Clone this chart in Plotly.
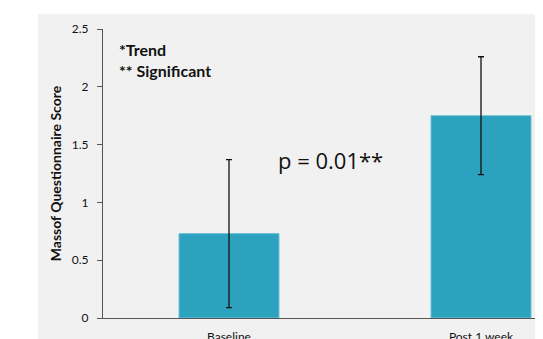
import plotly.graph_objects as go

categories = ["Baseline", "Post 1 week"]
means = [0.73, 1.75]
errors = [0.64, 0.51]
y_ticks = [0, 0.5, 1, 1.5, 2, 2.5]
y_tick_labels = ["0", "0.5", "1", "1.5", "2", "2.5"]

# page has an 8px body margin; figure is sized to end at the window edge
OFF = 8
W, H = 543 - OFF, 339 - OFF
L, T = 103 - OFF, 29 - OFF
B = H - (318 - OFF)
R = 0
pw = W - L - R
ph = H - T - B
unit_px = 252.0

FONT = "Lato, sans-serif"
INK = "#111111"

fig = go.Figure()
fig.add_trace(go.Bar(
    x=[0, 1], y=means,
    width=100 / unit_px,
    marker=dict(color="#2da2bf", line=dict(color="#6cc0d6", width=1)),
    error_y=dict(type="data", array=errors, visible=True, color=INK, thickness=1.3, width=3),
    showlegend=False,
))

fig.update_layout(
    width=W, height=H,
    margin=dict(l=L, r=R, t=T, b=B, autoexpand=False),
    paper_bgcolor="white",
    plot_bgcolor="#f1f1f1",
    font=dict(family=FONT, color=INK, size=12),
    shapes=[dict(type="rect", xref="paper", yref="paper",
                 x0=(38 - 103) / pw, x1=1.0, y0=-B / ph - 0.02, y1=(318 - 14) / ph,
                 fillcolor="#f1f1f1", line=dict(width=0), layer="below")],
)
fig.update_xaxes(
    range=[-0.5, -0.5 + pw / unit_px],
    tickvals=[0, 1], ticktext=categories,
    showline=True, linecolor="#555555", linewidth=1.2,
    showgrid=False, zeroline=False, ticks="",
    ticklabelstandoff=7,
    tickfont=dict(size=12, family=FONT, color=INK),
    automargin=False,
)
fig.update_yaxes(
    range=[0, 2.5],
    tickvals=y_ticks, ticktext=y_tick_labels,
    showline=True, linecolor="#555555", linewidth=1.2,
    ticks="outside", ticklen=5, tickcolor="#555555", tickwidth=1.2,
    showgrid=False, zeroline=False,
    ticklabelstandoff=6,
    tickfont=dict(size=12, family=FONT, color=INK),
    title=dict(text="<b>Massof Questionnaire Score</b>", font=dict(size=14, family=FONT, color=INK), standoff=6),
    automargin=False,
)

fig.add_annotation(x=(117 - 103) / pw, y=2.32, xref="paper", yref="y", text="<b>*Trend</b>",
                   showarrow=False, xanchor="left", yanchor="middle",
                   font=dict(size=16, family=FONT, color=INK))
fig.add_annotation(x=(117 - 103) / pw, y=2.145, xref="paper", yref="y", text="<b>** Significant</b>",
                   showarrow=False, xanchor="left", yanchor="middle",
                   font=dict(size=16, family=FONT, color=INK))
fig.add_annotation(x=0.186, y=1.367, xref="x", yref="y", text="p = 0.01**",
                   showarrow=False, xanchor="left", yanchor="middle",
                   font=dict(size=22, family="Open Sans, sans-serif", color=INK))

fig.write_html("out.html")
